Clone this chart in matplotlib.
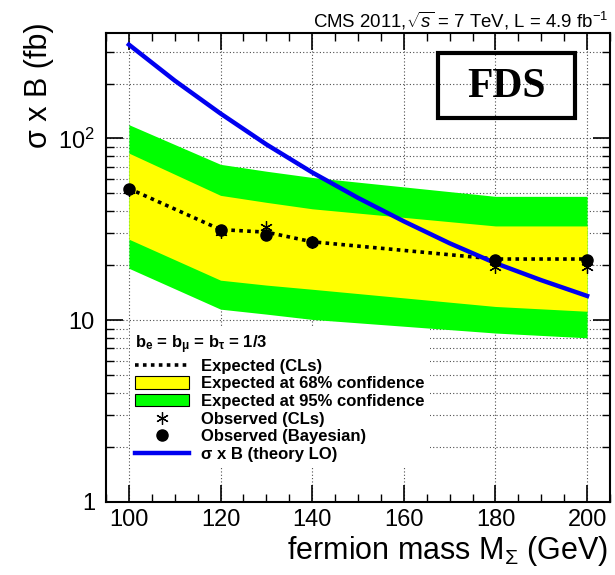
import matplotlib
matplotlib.use("Agg")
import matplotlib.pyplot as plt
from matplotlib.lines import Line2D
from matplotlib.patches import Patch, Rectangle
from matplotlib.ticker import MultipleLocator, LogLocator, NullFormatter, FixedLocator, FixedFormatter

plt.rcParams.update({
    "font.family": ["Liberation Sans", "DejaVu Sans"],
    "mathtext.fontset": "custom",
    "mathtext.rm": "Liberation Sans",
    "mathtext.it": "Liberation Sans:italic",
    "mathtext.bf": "Liberation Sans:bold",
})

# ---- limits ----
mass     = [100, 120, 130, 140, 180, 200]
expected = [53, 31.5, 30.5, 27, 21.7, 21.7]
band68_lo = [27.9, 16.6, 15.6, 14.8, 11.9, 11.2]
band68_hi = [83, 48.6, 44.5, 41, 33, 33]
band95_lo = [19.3, 11.5, 10.8, 10.1, 8.5, 8.0]
band95_hi = [119, 72, 66, 61, 48, 48]
obs_cls   = [52, 30.5, 32.5, 26.8, 19.5, 19.5]
obs_bayes = [53, 31.2, 29.3, 27, 21.5, 21.4]

# ---- theory LO curve ----
theory_mass = [100, 110, 120, 130, 140, 150, 160, 170, 180, 190, 200]
theory_xs   = [328, 208, 137, 92.7, 65, 47.1, 35, 26.5, 20.6, 16.6, 13.6]

YELLOW = "#ffff00"
GREEN = "#00ff00"
BLUE = "#0000f0"

fig = plt.figure(figsize=(6.15, 5.75), dpi=100)
ax = fig.add_axes([106/615, 1-502/575, 504/615, 469/575])

ax.fill_between(mass, band95_lo, band95_hi, color=GREEN, lw=0, zorder=2)
ax.fill_between(mass, band68_lo, band68_hi, color=YELLOW, lw=0, zorder=3)
ax.plot(mass, expected, color="black", lw=2.6, ls=(0, (1, 1.2)), zorder=4)
ax.plot(theory_mass, theory_xs, color=BLUE, lw=3.2, zorder=5,
        solid_joinstyle="round")
ax.plot(mass, obs_cls, ls="none", marker=(6, 2, 0), ms=9, mew=0.9,
        color="black", zorder=6)
ax.plot(mass, obs_bayes, ls="none", marker="o", ms=8, color="black", zorder=7)

ax.set_yscale("log")
ax.set_xlim(95, 205)
ax.set_ylim(1, 380)

ax.xaxis.set_major_locator(MultipleLocator(20))
ax.xaxis.set_minor_locator(MultipleLocator(5))
ax.yaxis.set_major_locator(FixedLocator([1, 10, 100]))
ax.yaxis.set_major_formatter(FixedFormatter(["1", "10", r"$10^{2}$"]))
ax.yaxis.set_minor_locator(LogLocator(base=10, subs=range(2, 10)))
ax.yaxis.set_minor_formatter(NullFormatter())

ax.tick_params(which="both", direction="in", top=True, right=True)
ax.tick_params(which="major", length=12, width=1.2, labelsize=17, pad=5)
ax.tick_params(which="minor", length=6, width=1.0)
ax.tick_params(axis="y", which="major", pad=8)

ax.grid(True, which="major", axis="x", color="0.3", ls=(0, (1, 2)), lw=0.8, zorder=1)
ax.grid(True, which="both", axis="y", color="0.3", ls=(0, (1, 2)), lw=0.8, zorder=1)
ax.set_axisbelow(True)
for sp in ax.spines.values():
    sp.set_linewidth(1.5)

fig.text(608/615, 1-27/575, r"CMS 2011,$\sqrt{s}$ = 7 TeV, L = 4.9 fb$^{-1}$",
         ha="right", va="baseline", fontsize=13.4)
fig.text(39/615, 1-22/575, "σ x B (fb)", rotation=90, ha="center", va="top",
         fontsize=22)
fig.text(608/615, 1-559/575, r"fermion mass M$_{\Sigma}$ (GeV)", ha="right",
         va="baseline", fontsize=22)

# FDS box
box = Rectangle((438/615, 1-118/575), 137/615, 65/575, transform=fig.transFigure,
                fill=False, edgecolor="black", lw=3, zorder=10)
fig.patches.append(box)
fig.text(506/615, 1-87/575, "FDS", ha="center", va="center", fontsize=30,
         fontweight="bold", family=["Liberation Serif", "DejaVu Serif"])

handles = [
    Line2D([], [], color="black", lw=2.6, ls=(0, (1, 1.2))),
    Patch(facecolor=YELLOW, edgecolor="black", lw=0.8),
    Patch(facecolor=GREEN, edgecolor="black", lw=0.8),
    Line2D([], [], ls="none", marker=(6, 2, 0), ms=9, mew=0.9, color="black"),
    Line2D([], [], ls="none", marker="o", ms=8, color="black"),
    Line2D([], [], color=BLUE, lw=3.2),
]
labels = ["Expected (CLs)", "Expected at 68% confidence",
          "Expected at 95% confidence", "Observed (CLs)",
          "Observed (Bayesian)", r"σ x B (theory LO)"]
leg = ax.legend(handles, labels,
                title=r"b$_{\mathbf{e}}$ = b$_{\mathbf{\mu}}$ = b$_{\mathbf{\tau}}$ = 1/3",
                loc="upper left", bbox_to_anchor=(0.048, 0.37),
                prop={"size": 12, "weight": "bold"},
                title_fontproperties={"size": 12, "weight": "bold"},
                alignment="left", frameon=True, facecolor="white",
                edgecolor="none", framealpha=1, fancybox=False,
                handlelength=3.25, handleheight=0.75, handletextpad=0.7,
                labelspacing=0.16, borderpad=0.3, borderaxespad=0)
# above the grid, below the bands
leg.set_zorder(1.5)

fig.savefig("out.png", dpi=100, facecolor="white")
